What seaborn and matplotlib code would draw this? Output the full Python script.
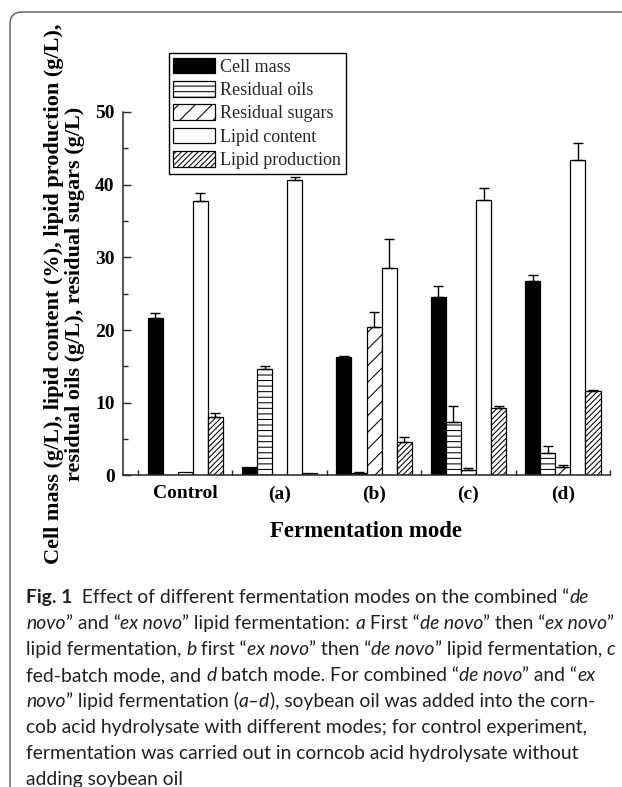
import matplotlib
matplotlib.use("Agg")
import matplotlib.pyplot as plt
from matplotlib.patches import FancyBboxPatch
from matplotlib.transforms import IdentityTransform
from matplotlib.ticker import MultipleLocator, FixedLocator
import seaborn as sns
import pandas as pd

# ---------------- data ----------------
groups = ["Control", "(a)", "(b)", "(c)", "(d)"]
series = ["Cell mass", "Residual oils", "Residual sugars", "Lipid content", "Lipid production"]

cell_mass = [21.6, 1.2, 16.3, 24.5, 26.7]
cell_mass_err = [0.7, 0.0, 0.1, 1.5, 0.9]
residual_oils = [0.0, 14.6, 0.3, 7.3, 3.1]
residual_oils_err = [0.0, 0.5, 0.15, 2.3, 0.9]
residual_sugars = [0.5, 0.1, 20.4, 0.75, 1.15]
residual_sugars_err = [0.0, 0.0, 2.1, 0.3, 0.25]
lipid_content = [37.7, 40.6, 28.6, 37.9, 43.4]
lipid_content_err = [1.1, 0.4, 3.9, 1.6, 2.35]
lipid_production = [8.1, 0.4, 4.6, 9.3, 11.6]
lipid_production_err = [0.5, 0.0, 0.75, 0.2, 0.2]

values = [cell_mass, residual_oils, residual_sugars, lipid_content, lipid_production]
errors = [cell_mass_err, residual_oils_err, residual_sugars_err, lipid_content_err, lipid_production_err]

fill_colors = ["black", "white", "white", "white", "white"]
hatches = ["", "---", "//", "", "//////"]

rows = []
for s, vals in zip(series, values):
    for g, v in zip(groups, vals):
        rows.append({"mode": g, "series": s, "value": v})
df = pd.DataFrame(rows)

# ---------------- style ----------------
sns.set_theme(style="ticks")
plt.rcParams["font.family"] = ["Liberation Serif", "DejaVu Serif"]
plt.rcParams["hatch.linewidth"] = 0.75
plt.rcParams["axes.linewidth"] = 1.1

W, H = 622, 787
fig = plt.figure(figsize=(W / 100, H / 100), dpi=100)
fig.patch.set_facecolor("white")

ax = fig.add_axes([123 / W, 1 - 475.5 / H, (610 - 123) / W, (475.5 - 112) / H])
ax.set_facecolor("white")

sns.barplot(data=df, x="mode", y="value", hue="series", order=groups, hue_order=series,
            palette=fill_colors, edgecolor="black", linewidth=0.9, errorbar=None,
            saturation=1, ax=ax, legend=False)

for cont, h, fc in zip(ax.containers, hatches, fill_colors):
    for bar in cont:
        bar.set_hatch(h)
        bar.set_facecolor(fc)
        bar.set_edgecolor("black")

for cont, errs in zip(ax.containers, errors):
    for bar, e in zip(cont, errs):
        if e > 0:
            ax.errorbar(bar.get_x() + bar.get_width() / 2, bar.get_height(),
                        yerr=[[0], [e]], fmt="none", ecolor="black",
                        elinewidth=1.0, capsize=3.5, capthick=1.0, zorder=5)

ax.set_xlim(-0.66, 4.5)
ax.set_ylim(0, 50)
sns.despine(ax=ax, top=True, right=True)

ax.yaxis.set_major_locator(MultipleLocator(10))
ax.yaxis.set_minor_locator(MultipleLocator(5))
ax.xaxis.set_minor_locator(FixedLocator([-0.5, 0.5, 1.5, 2.5, 3.5, 4.5]))
ax.tick_params(axis="y", which="major", direction="in", length=6, width=1.0,
               labelsize=14, pad=6)
ax.tick_params(axis="y", which="minor", direction="in", length=3.5, width=1.0)
ax.tick_params(axis="x", which="major", length=0, labelsize=14, pad=7)
ax.tick_params(axis="x", which="minor", direction="in", length=3.5, width=1.0)
for lab in ax.get_xticklabels() + ax.get_yticklabels():
    lab.set_fontweight("bold")
    lab.set_color("black")

ax.set_xlabel("Fermentation mode", fontsize=16.5, fontweight="bold", labelpad=13, color="black")
ax.set_ylabel("Cell mass (g/L), lipid content (%), lipid production (g/L),\n"
              "residual oils (g/L), residual sugars (g/L)",
              fontsize=16, fontweight="bold", labelpad=7, color="black", linespacing=1.1)

leg = ax.legend(ax.containers, series, loc="upper left", bbox_to_anchor=(0.094, 1.162),
                fontsize=13, frameon=True, fancybox=False, edgecolor="black",
                framealpha=1, borderpad=0.25, labelspacing=0.3, handlelength=2.3,
                handleheight=0.95, handletextpad=0.3, borderaxespad=0)
leg.get_frame().set_linewidth(1.0)

# ---------------- frame ----------------
frame = FancyBboxPatch((10, -20), W + 30, (H - 12) + 20,
                       boxstyle="round,pad=0,rounding_size=12",
                       transform=IdentityTransform(), fill=False,
                       edgecolor="#555555", linewidth=1.0)
fig.patches.append(frame)

# ---------------- caption ----------------
renderer = fig.canvas.get_renderer()
cap_font = "Lato"
cap_size = 13.9
cap_color = "#231f20"

lines = [
    [("Fig. 1", "b"), ("  Effect of different fermentation modes on the combined \u201c", "n"), ("de", "i")],
    [("novo", "i"), ("\u201d and \u201c", "n"), ("ex novo", "i"), ("\u201d lipid fermentation: ", "n"),
     ("a", "i"), (" First \u201c", "n"), ("de novo", "i"), ("\u201d then \u201c", "n"),
     ("ex novo", "i"), ("\u201d", "n")],
    [("lipid fermentation, ", "n"), ("b", "i"), (" first \u201c", "n"), ("ex novo", "i"),
     ("\u201d then \u201c", "n"), ("de novo", "i"), ("\u201d lipid fermentation, ", "n"), ("c", "i")],
    [("fed-batch mode, and ", "n"), ("d", "i"), (" batch mode. For combined \u201c", "n"),
     ("de novo", "i"), ("\u201d and \u201c", "n"), ("ex", "i")],
    [("novo", "i"), ("\u201d lipid fermentation (", "n"), ("a\u2013d", "i"),
     ("), soybean oil was added into the corn-", "n")],
    [("cob acid hydrolysate with different modes; for control experiment,", "n")],
    [("fermentation was carried out in corncob acid hydrolysate without", "n")],
    [("adding soybean oil", "n")],
]

y0 = H - 603
for i, runs in enumerate(lines):
    x = 26
    y = y0 - i * 26
    for txt, st in runs:
        t = fig.text(x, y, txt, transform=IdentityTransform(), fontsize=cap_size,
                     family=[cap_font, "DejaVu Sans"], color=cap_color,
                     fontweight="bold" if st == "b" else "normal",
                     fontstyle="italic" if st == "i" else "normal",
                     ha="left", va="baseline")
        x += t.get_window_extent(renderer).width

fig.savefig("out.png", dpi=100, facecolor="white")
